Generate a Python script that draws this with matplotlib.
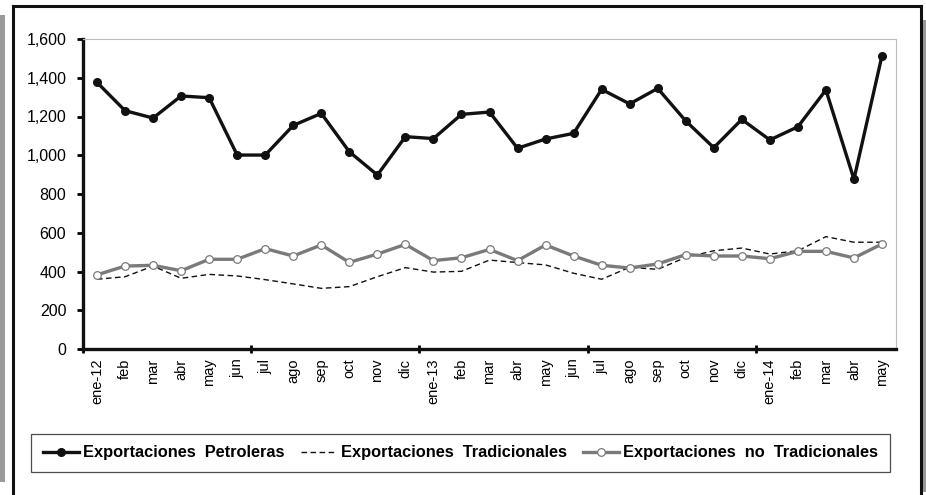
import matplotlib
matplotlib.use("Agg")
import matplotlib.pyplot as plt
from matplotlib.lines import Line2D
from matplotlib.patches import Rectangle
from matplotlib.ticker import FuncFormatter, FixedLocator

plt.rcParams['font.family'] = ['Liberation Sans', 'DejaVu Sans']

months = ["ene-12", "feb", "mar", "abr", "may", "jun", "jul", "ago", "sep", "oct", "nov", "dic",
          "ene-13", "feb", "mar", "abr", "may", "jun", "jul", "ago", "sep", "oct", "nov", "dic",
          "ene-14", "feb", "mar", "abr", "may"]

petroleras = [1376, 1230, 1192, 1306, 1297, 1001, 1001, 1154, 1216, 1018, 898, 1096,
              1086, 1211, 1223, 1036, 1084, 1113, 1340, 1265, 1345, 1177, 1039, 1185,
              1079, 1147, 1337, 876, 1514]
tradicionales = [360, 373, 428, 365, 385, 377, 358, 336, 313, 322, 373, 420,
                 397, 401, 459, 446, 434, 391, 360, 422, 411, 473, 507, 521,
                 490, 507, 580, 551, 551]
no_tradicionales = [383, 428, 432, 404, 463, 463, 518, 480, 537, 447, 490, 540,
                    456, 471, 514, 456, 537, 480, 432, 418, 439, 487, 480, 480,
                    466, 504, 504, 470, 542]

labels = ["Exportaciones  Petroleras", "Exportaciones  Tradicionales",
          "Exportaciones  no  Tradicionales"]

W, H = 926, 495
fig = plt.figure(figsize=(W / 100, H / 100), dpi=100)
fig.patch.set_facecolor("white")

ax = fig.add_axes([83 / W, 1 - 349 / H, (896 - 83) / W, (349 - 39) / H])
x = list(range(len(months)))

l1, = ax.plot(x, petroleras, color="#111111", lw=2.4, marker="o", ms=5.5,
              mfc="#111111", mec="#111111", zorder=4)
l2, = ax.plot(x, tradicionales, color="#111111", lw=1.0, ls=(0, (4, 2.5)), zorder=3)
l3, = ax.plot(x, no_tradicionales, color="#7a7a7a", lw=2.4, marker="o", ms=5.5,
              mfc="white", mec="#7a7a7a", mew=0.9, zorder=3)

ax.set_xlim(-0.5, len(months) - 0.5)
ax.set_ylim(0, 1600)
ax.set_yticks(range(0, 1601, 200))
ax.yaxis.set_major_formatter(FuncFormatter(lambda v, p: f"{v:,.0f}"))
ax.tick_params(axis="y", direction="out", length=4, width=2, labelsize=11.5, pad=8)

ax.xaxis.set_major_locator(FixedLocator([-0.5 + 6 * k for k in range(5)]))
ax.xaxis.set_major_formatter(FuncFormatter(lambda v, p: ""))
ax.xaxis.set_minor_locator(FixedLocator(x))
ax.set_xticklabels(months, minor=True, rotation=90)
ax.tick_params(axis="x", which="major", direction="inout", length=6, width=2)
ax.tick_params(axis="x", which="minor", length=0, labelsize=10.5, pad=7)

for s in ["left", "bottom"]:
    ax.spines[s].set_linewidth(2.4)
    ax.spines[s].set_color("#111111")
for s in ["top", "right"]:
    ax.spines[s].set_linewidth(0.8)
    ax.spines[s].set_color("#bdbdbd")

leg = fig.legend([l1, l2, l3], labels, ncol=3, loc="center",
                 bbox_to_anchor=((31 + 890) / 2 / W, 1 - 453 / H),
                 frameon=True, fancybox=False, edgecolor="#222222", handlelength=2.2,
                 handletextpad=0.25, columnspacing=1.0, borderaxespad=0, borderpad=0.7,
                 prop={"weight": "bold", "size": 11.8})
leg.get_frame().set_linewidth(0.9)

# outer frame
fig.add_artist(Line2D([12.5 / W, 12.5 / W], [0, 1 - 6 / H], color="#111111", lw=2.2))
fig.add_artist(Line2D([12.5 / W, 921 / W], [1 - 6 / H, 1 - 6 / H], color="#111111", lw=2.2))
fig.add_artist(Line2D([921 / W, 921 / W], [1 - 6 / H, 0], color="#111111", lw=2.2))
fig.add_artist(Rectangle((0, 1 - 482 / H), 4.5 / W, (482 - 15) / H, color="#9a9a9a", lw=0))
fig.add_artist(Rectangle((922.5 / W, 1 - 492 / H), 3.5 / W, (492 - 20) / H, color="#9a9a9a", lw=0))

fig.savefig("out.png", dpi=100)
